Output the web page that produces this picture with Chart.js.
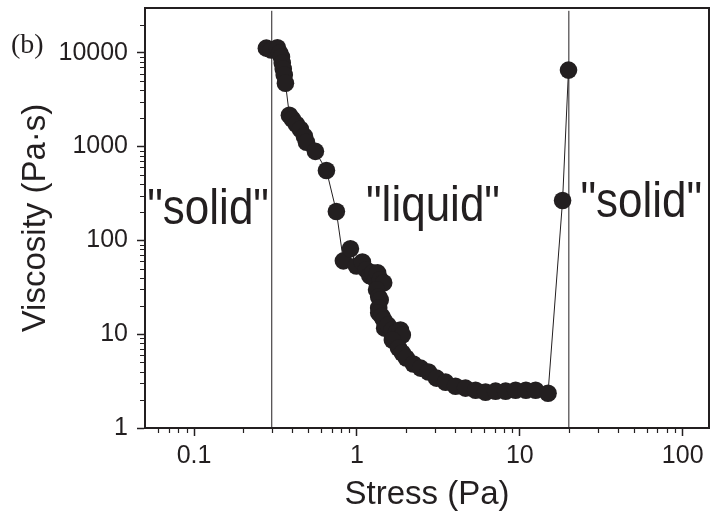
<!DOCTYPE html>
<html><head><meta charset="utf-8">
<script src="https://cdn.jsdelivr.net/npm/chart.js@4/dist/chart.umd.min.js"></script>
<style>html,body{margin:0;padding:0;background:#fff;}canvas{display:block;}</style>
</head><body>
<canvas id="c" width="712" height="521"></canvas>
<script>
// ---- data ----
const stress = [0.278,0.298,0.325,0.336,0.344,0.348,0.353,0.358,0.364,
  0.385,0.402,0.425,0.450,0.476,0.490,0.556,0.650,0.748,0.826,0.912,
  0.993,1.08,1.14,1.20,1.25,1.30,1.34,1.39,1.46,1.32,1.36,1.39,1.36,1.36,1.42,1.46,1.48,
  1.55,1.65,1.75,1.85,1.90,1.65,1.80,1.90,2.01,2.22,2.46,2.75,3.08,3.50,4.03,4.64,
  5.35,6.16,7.10,8.18,9.42,10.9,12.5,14.9,18.3,19.9];
const viscosity = [11200,10700,11300,9900,8990,7760,6700,5780,4740,
  2160,1955,1726,1527,1286,1110,889,556,203,60.5,81.3,
  53.3,58.9,48.5,42,45,38,45,38,35.3,29.7,25,23.2,19,16.9,15.5,14.2,11.6,
  12.5,11.1,10.5,11.1,9.8,8.67,7.13,6.3,5.57,4.81,4.35,3.95,3.40,3.08,2.79,2.66,
  2.53,2.41,2.47,2.47,2.53,2.53,2.53,2.35,266,6530];
const boundaryStress = [0.3, 20];
const xTickValues = [0.1, 1, 10, 100];
const yTickValues = [1, 10, 100, 1000, 10000];
const regionLabels = ['"solid"', '"liquid"', '"solid"'];
const regionLabelStress = [0.122, 2.93, 55.7];
const regionLabelViscosity = [151, 162, 179];
const panelLabel = '(b)';

const INK = '#231f20';
const FONT = "'Liberation Sans', Arial, Helvetica, sans-serif";

const points = stress.map((s, i) => ({x: s, y: viscosity[i]}));
const boundaryDatasets = boundaryStress.map(s => ({
  data: [{x: s, y: 1}, {x: s, y: 28000}],
  showLine: true, borderColor: INK, borderWidth: 1, pointRadius: 0, pointHoverRadius: 0
}));

function minorValues(min, max) {
  const out = [];
  for (let d = Math.floor(Math.log10(min)); d <= Math.ceil(Math.log10(max)); d++) {
    for (let m = 2; m <= 9; m++) {
      const v = m * Math.pow(10, d);
      if (v > min && v < max) out.push(v);
    }
  }
  return out;
}

const decor = {
  id: 'decor',
  afterDraw(chart) {
    const {ctx, chartArea: a, scales} = chart;
    ctx.save();
    ctx.strokeStyle = INK;
    // top and right frame
    ctx.lineWidth = 2;
    ctx.beginPath();
    ctx.moveTo(a.left, a.top); ctx.lineTo(a.right, a.top); ctx.lineTo(a.right, a.bottom);
    ctx.stroke();
    // minor ticks
    ctx.lineWidth = 1.2;
    ctx.beginPath();
    const xs = scales.x, ys = scales.y;
    minorValues(xs.min, xs.max).forEach(v => {
      const px = Math.round(xs.getPixelForValue(v)) + 0.5;
      ctx.moveTo(px, a.bottom); ctx.lineTo(px, a.bottom + 5);
    });
    minorValues(ys.min, ys.max).forEach(v => {
      const py = Math.round(ys.getPixelForValue(v)) + 0.5;
      ctx.moveTo(a.left, py); ctx.lineTo(a.left - 5, py);
    });
    ctx.stroke();
    // region annotations
    ctx.fillStyle = INK;
    ctx.font = '44px ' + FONT;
    ctx.textAlign = 'center';
    ctx.textBaseline = 'alphabetic';
    regionLabels.forEach((t, i) => {
      const px = xs.getPixelForValue(regionLabelStress[i]);
      const py = ys.getPixelForValue(regionLabelViscosity[i]);
      ctx.save();
      ctx.translate(px, py);
      ctx.scale(1, 1.12);
      ctx.fillText(t, 0, 0);
      ctx.restore();
    });
    // panel label
    ctx.font = '28px "Liberation Serif", "Times New Roman", serif';
    ctx.textAlign = 'left';
    ctx.textBaseline = 'middle';
    ctx.fillText(panelLabel, 11, 46);
    ctx.restore();
  }
};

new Chart(document.getElementById('c'), {
  type: 'scatter',
  data: {
    datasets: [{
      data: points,
      showLine: true,
      borderColor: INK,
      borderWidth: 1,
      pointRadius: 8.8,
      pointHoverRadius: 8.8,
      pointBackgroundColor: INK,
      pointBorderWidth: 0
    }, ...boundaryDatasets]
  },
  options: {
    responsive: false,
    animation: false,
    events: [],
    layout: {autoPadding: false, padding: {top: 8, right: 3, left: 0, bottom: 0}},
    plugins: {legend: {display: false}, tooltip: {enabled: false}},
    scales: {
      x: {
        type: 'logarithmic', min: 0.05, max: 145,
        afterBuildTicks: s => { s.ticks = xTickValues.map(v => ({value: v})); },
        afterFit: s => { s.height = 93; s.paddingLeft = 0; s.paddingRight = 0; },
        grid: {drawOnChartArea: false, drawTicks: true, tickLength: 8, tickColor: INK, tickWidth: 1.5},
        border: {display: true, color: INK, width: 2},
        ticks: {color: INK, font: {family: FONT, size: 25}, padding: 5, maxRotation: 0,
          autoSkip: false, callback: v => String(v)},
        title: {display: true, text: 'Stress (Pa)', color: INK,
          font: {family: FONT, size: 33}, padding: {top: 0, bottom: 6}}
      },
      y: {
        type: 'logarithmic', min: 1, max: 30000,
        afterBuildTicks: s => { s.ticks = yTickValues.map(v => ({value: v})); },
        afterFit: s => { s.width = 145; s.paddingTop = 0; s.paddingBottom = 0; },
        grid: {drawOnChartArea: false, drawTicks: true, tickLength: 8, tickColor: INK, tickWidth: 1.5},
        border: {display: true, color: INK, width: 2},
        ticks: {color: INK, font: {family: FONT, size: 25}, padding: 9,
          autoSkip: false, callback: v => String(v)},
        title: {display: true, text: 'Viscosity (Pa·s)', color: INK,
          font: {family: FONT, size: 33}, padding: {top: 16, bottom: 0}}
      }
    }
  },
  plugins: [decor]
});
</script>
</body></html>
